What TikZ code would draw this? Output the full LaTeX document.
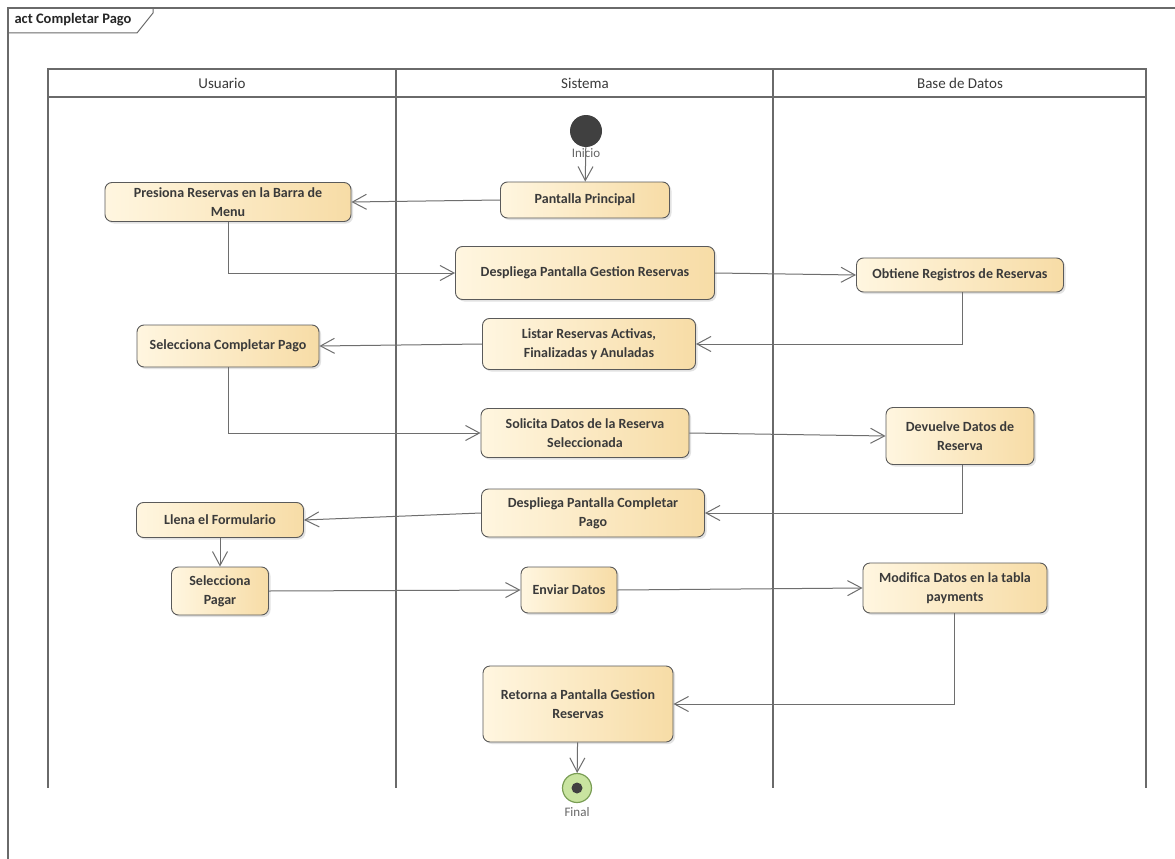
\documentclass[tikz,border=0pt]{standalone}
\usepackage{fontspec}
\setmainfont{Carlito}
\usetikzlibrary{arrows.meta,shadows}
\definecolor{actborder}{HTML}{5A5A5A}
\definecolor{actL}{HTML}{FFF6E0}
\definecolor{actR}{HTML}{F7DCA6}
\definecolor{txt}{HTML}{3A3A3A}
\definecolor{lanec}{HTML}{6A6A6A}
\definecolor{flowc}{HTML}{6E6E6E}
\definecolor{startc}{HTML}{404040}
\definecolor{finring}{HTML}{C9E4A0}
\definecolor{finbord}{HTML}{7A9E55}
\tikzset{
  act/.style={draw=actborder, line width=0.9pt, rounded corners=7pt,
    left color=actL, right color=actR,
    drop shadow={shadow xshift=2pt, shadow yshift=-2pt, fill=black!22},
    font=\bfseries\fontsize{14}{19}\selectfont, text=txt, align=center, inner sep=0pt},
  flow/.style={draw=flowc, line width=1pt, -{Straight Barb[length=14pt,width=15pt]}},
  lane/.style={draw=lanec, line width=1.4pt},
  hdr/.style={font=\fontsize{15}{17}\selectfont, text=txt},
  lbl/.style={font=\fontsize{13}{15}\selectfont, text=black!60}
}
\begin{document}
\begin{tikzpicture}[x=1pt,y=-1pt]
\useasboundingbox (0,0) rectangle (1175,859);
\fill[white] (0,0) rectangle (1175,859);
% frame
\draw[draw=lanec, line width=1.2pt] (8,8) rectangle (1200,900);
\draw[draw=lanec, line width=1pt] (8,33) -- (137,33) -- (153,13) -- (153,8);
\node[anchor=west, font=\bfseries\fontsize{14.5}{17}\selectfont, text=black!85] (title) at (11,20) {act Completar Pago};
% swimlanes
\draw[lane] (48,69) rectangle (1146,97);
\draw[lane] (48,69) -- (48,788);
\draw[lane] (396,69) -- (396,788);
\draw[lane] (773,69) -- (773,788);
\draw[lane] (1146,69) -- (1146,788);
\node[hdr] (h1) at (222,83) {Usuario};
\node[hdr] (h2) at (585,83) {Sistema};
\node[hdr] (h3) at (960,83) {Base de Datos};
% start / end
\node[circle, fill=startc, minimum size=32pt, inner sep=0pt] (ini) at (586,131) {};
\node[lbl] (inil) at (586,153) {Inicio};
\node[circle, fill=finring, draw=finbord, line width=1.2pt, minimum size=29pt, inner sep=0pt] (fin) at (577,788) {};
\node[circle, fill=startc, minimum size=11pt, inner sep=0pt] (finin) at (577,788) {};
\node[lbl] (finl) at (577,812) {Final};
% activities
\node[act, minimum width=169pt, minimum height=36pt] (pp) at (585,200) {Pantalla Principal};
\node[act, minimum width=246pt, minimum height=39pt] (pres) at (228,202) {Presiona Reservas en la Barra de\\Menu};
\node[act, minimum width=259pt, minimum height=53pt] (dgr) at (585,273) {Despliega Pantalla Gestion Reservas};
\node[act, minimum width=207pt, minimum height=34pt] (obt) at (960,275) {Obtiene Registros de Reservas};
\node[act, minimum width=213pt, minimum height=51pt] (lis) at (589,344) {Listar Reservas Activas,\\Finalizadas y Anuladas};
\node[act, minimum width=182pt, minimum height=42pt] (scp) at (228,346) {Selecciona Completar Pago};
\node[act, minimum width=208pt, minimum height=49pt] (sol) at (585,433) {Solicita Datos de la Reserva\\Seleccionada};
\node[act, minimum width=148pt, minimum height=57pt] (dev) at (960,436) {Devuelve Datos de\\Reserva};
\node[act, minimum width=223pt, minimum height=48pt] (dcp) at (593,513) {Despliega Pantalla Completar\\Pago};
\node[act, minimum width=167pt, minimum height=35pt] (lle) at (220,520) {Llena el Formulario};
\node[act, minimum width=97pt, minimum height=48pt] (spa) at (220,591) {Selecciona\\Pagar};
\node[act, minimum width=96pt, minimum height=46pt] (env) at (569,590) {Enviar Datos};
\node[act, minimum width=184pt, minimum height=50pt] (mod) at (955,588) {Modifica Datos en la tabla\\payments};
\node[act, minimum width=190pt, minimum height=76pt] (ret) at (578,704) {Retorna a Pantalla Gestion\\Reservas};
% flows
\draw[flow] (ini) -- (pp);
\draw[flow] (pp.west) -- (pres.east);
\draw[flow] (pres.south) |- (dgr.west);
\draw[flow] (dgr.east) -- (obt.west);
\draw[flow] (obt.south -| 962,0) |- (lis.east);
\draw[flow] (lis.west) -- (scp.east);
\draw[flow] (scp.south) |- (sol.west);
\draw[flow] (sol.east) -- (dev.west);
\draw[flow] (dev.south -| 962,0) |- (dcp.east);
\draw[flow] (dcp.west) -- (lle.east);
\draw[flow] (lle) -- (spa);
\draw[flow] (spa.east) -- (env.west);
\draw[flow] (env.east) -- (mod.west);
\draw[flow] (mod.south -| 954,0) |- (ret.east);
\draw[flow] (ret) -- (fin);
\end{tikzpicture}
\end{document}
